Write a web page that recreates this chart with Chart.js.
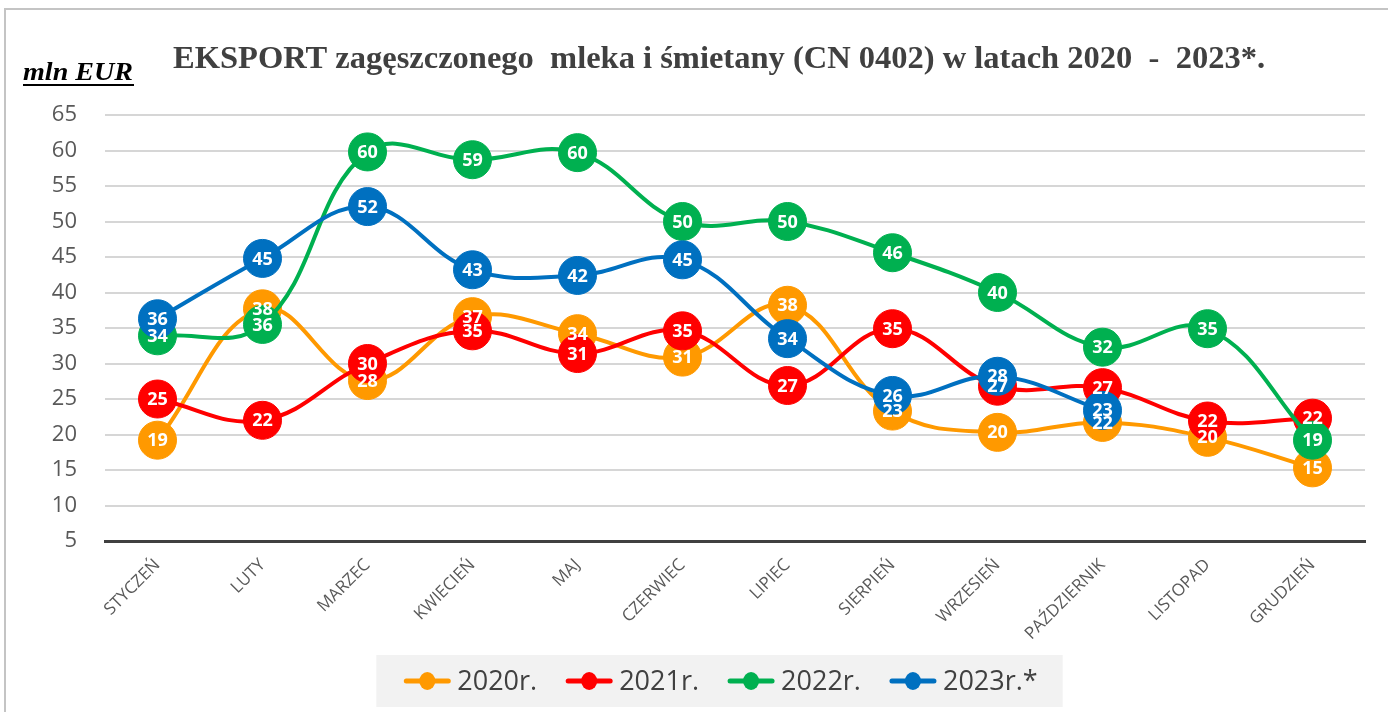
<!DOCTYPE html>
<html>
<head>
<meta charset="utf-8">
<script src="https://cdn.jsdelivr.net/npm/chart.js@4"></script>
<style>
  html, body { margin: 0; padding: 0; background: #ffffff; }
  #wrap { width: 1388px; height: 712px; position: relative; }
</style>
</head>
<body>
<div id="wrap"><canvas id="exportChart" width="1388" height="712"></canvas></div>
<script>
// Data
const months = ['STYCZEŃ', 'LUTY', 'MARZEC', 'KWIECIEŃ', 'MAJ', 'CZERWIEC', 'LIPIEC', 'SIERPIEŃ', 'WRZESIEŃ', 'PAŹDZIERNIK', 'LISTOPAD', 'GRUDZIEŃ'];
const seriesNames = ['2020r.', '2021r.', '2022r.', '2023r.*'];
const y2020 = [19.2, 37.7, 27.6, 36.6, 34.2, 30.9, 38.2, 23.3, 20.3, 21.7, 19.6, 15.3];
const y2021 = [25.0, 22.0, 30.0, 34.6, 31.4, 34.6, 26.9, 34.9, 26.8, 26.6, 21.9, 22.3];
const y2022 = [33.9, 35.5, 59.8, 58.7, 59.7, 50.0, 50.0, 45.6, 40.0, 32.3, 34.9, 19.2];
const y2023 = [36.3, 44.8, 52.1, 43.2, 42.4, 44.6, 33.5, 25.5, 28.2, 23.4];
const yTicks = [5, 10, 15, 20, 25, 30, 35, 40, 45, 50, 55, 60, 65];
const colors = ['#FF9900', '#FF0000', '#00B050', '#0070C0'];

// Title, unit label, frame and legend
const decorPlugin = {
    id: 'decor',
    beforeDraw(chart) {
        const ctx = chart.ctx;
        ctx.save();
        ctx.strokeStyle = '#c4c4c4';
        ctx.lineWidth = 2;
        ctx.strokeRect(5, 9, 1420, 740);

        // title
        const title = 'EKSPORT zagęszczonego  mleka i śmietany (CN 0402) w latach 2020  -  2023*.';
        ctx.font = 'bold 31px "Liberation Serif"';
        ctx.fillStyle = '#404040';
        ctx.textBaseline = 'alphabetic';
        let w = ctx.measureText(title).width;
        ctx.save();
        ctx.translate(173, 68);
        ctx.scale(1092 / w, 1);
        ctx.fillText(title, 0, 0);
        ctx.restore();

        // unit
        const unit = 'mln EUR';
        ctx.font = 'italic bold 25px "Liberation Serif"';
        ctx.fillStyle = '#000000';
        w = ctx.measureText(unit).width;
        ctx.save();
        ctx.translate(23, 80);
        ctx.scale(110 / w, 1);
        ctx.fillText(unit, 0, 0);
        ctx.restore();
        ctx.fillRect(23, 84, 111, 2);

        // legend
        ctx.font = '27px "Open Sans"';
        const markW = 46, gap = 7, between = 29;
        const widths = chart.data.datasets.map(ds => ctx.measureText(ds.label).width);
        const total = widths.reduce((s, tw) => s + markW + gap + tw, 0) + between * (widths.length - 1);
        const legTop = chart.chartArea.bottom + 114;
        const cy = legTop + 26;
        let x = 721 - total / 2;
        ctx.fillStyle = '#f2f2f2';
        ctx.fillRect(x - 28, legTop, total + 53, 52);
        ctx.textBaseline = 'middle';
        ctx.textAlign = 'left';
        chart.data.datasets.forEach((ds, i) => {
            ctx.strokeStyle = colors[i];
            ctx.fillStyle = colors[i];
            ctx.lineWidth = 5;
            ctx.lineCap = 'round';
            ctx.beginPath(); ctx.moveTo(x + 2, cy); ctx.lineTo(x + markW - 2, cy); ctx.stroke();
            ctx.beginPath(); ctx.ellipse(x + markW / 2, cy, 8, 9, 0, 0, Math.PI * 2); ctx.fill();
            ctx.fillStyle = '#404040';
            ctx.fillText(ds.label, x + markW + gap, cy + 1);
            x += markW + gap + widths[i] + between;
        });
        ctx.restore();
    },
    afterDatasetsDraw(chart) {
        // data labels on top of every marker
        const ctx = chart.ctx;
        ctx.save();
        ctx.font = 'bold 18px "Open Sans"';
        ctx.fillStyle = '#ffffff';
        ctx.textAlign = 'center';
        ctx.textBaseline = 'middle';
        chart.data.datasets.forEach((ds, i) => {
            const meta = chart.getDatasetMeta(i);
            meta.data.forEach((pt, j) => {
                ctx.fillText(String(Math.round(ds.data[j])), pt.x, pt.y + 1);
            });
        });
        ctx.restore();
    }
};

const allSeries = [y2020, y2021, y2022, y2023];
const datasets = allSeries.map((vals, i) => ({
    label: seriesNames[i],
    data: vals,
    borderColor: colors[i],
    backgroundColor: colors[i],
    pointBackgroundColor: colors[i],
    pointBorderColor: colors[i],
    pointRadius: 19,
    pointHoverRadius: 19,
    pointBorderWidth: 1,
    borderWidth: 4,
    tension: 0.4,
    order: 4 - i
}));

const ctx = document.getElementById('exportChart').getContext('2d');
const exportChart = new Chart(ctx, {
    type: 'line',
    data: { labels: months, datasets: datasets },
    options: {
        responsive: false,
        animation: false,
        events: [],
        layout: { padding: { top: 115, right: 23, bottom: 57, left: 0 } },
        plugins: {
            title: { display: false },
            tooltip: { enabled: false },
            legend: { display: false }
        },
        scales: {
            x: {
                offset: true,
                grid: { display: false },
                border: { display: true, color: '#404040', width: 3 },
                ticks: {
                    minRotation: 45,
                    maxRotation: 45,
                    padding: 6,
                    color: '#595959',
                    font: { family: 'Open Sans', size: 17 }
                },
                afterFit(scale) { scale.height = 114; }
            },
            y: {
                min: yTicks[0],
                max: yTicks[yTicks.length - 1],
                afterBuildTicks(scale) { scale.ticks = yTicks.map(v => ({ value: v })); },
                grid: { color: '#d6d6d6', lineWidth: 2, drawTicks: false },
                border: { display: false },
                ticks: {
                    padding: 28,
                    color: '#595959',
                    font: { family: 'Open Sans', size: 22 }
                },
                afterFit(scale) { scale.width = 105; }
            }
        }
    },
    plugins: [decorPlugin]
});
</script>
</body>
</html>
